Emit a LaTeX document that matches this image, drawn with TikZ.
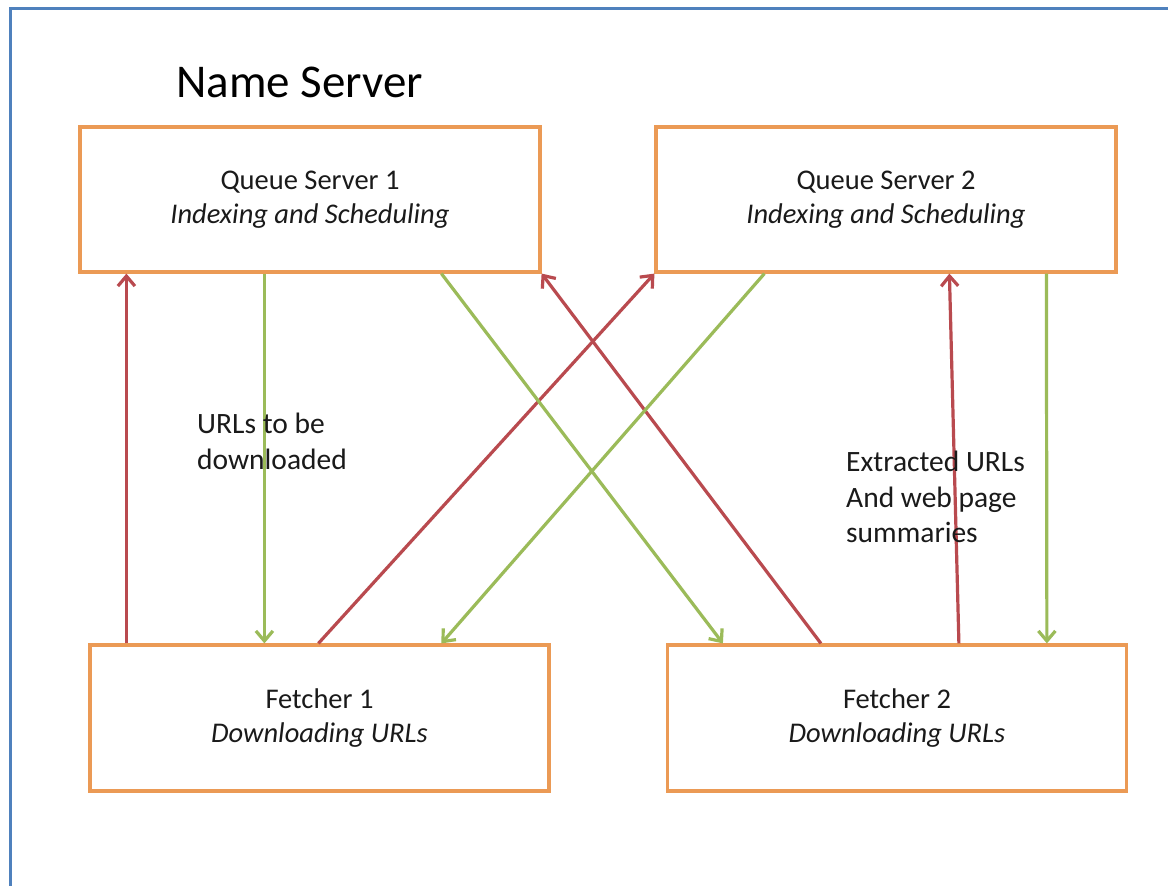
\documentclass[tikz,border=0pt]{standalone}
\usepackage{fontspec}
\setmainfont{Carlito}
\usetikzlibrary{arrows.meta}
\definecolor{frameblue}{HTML}{4F81BD}
\definecolor{boxorange}{HTML}{EB9A55}
\definecolor{arrred}{HTML}{B94A4F}
\definecolor{arrgreen}{HTML}{9BBB59}
\definecolor{txt}{HTML}{1A1A1A}
\tikzset{
  server/.style={draw=boxorange, line width=3.2pt, minimum width=460pt, minimum height=145pt,
    inner sep=0pt, align=center, text=txt, font=\fontsize{28.5}{34}\selectfont},
  upflow/.style={draw=arrred, line width=3.2pt, -{Straight Barb[length=10pt,width=17pt]}},
  downflow/.style={draw=arrgreen, line width=3.2pt, -{Straight Barb[length=10pt,width=17pt]}},
  lbl/.style={align=left, anchor=north west, inner sep=0pt, text=txt, font=\fontsize{29.5}{35.5}\selectfont}
}
\begin{document}
\begin{tikzpicture}[x=1pt,y=-1pt]
\useasboundingbox (0,0) rectangle (1168,886);
\fill[white] (0,0) rectangle (1168,886);
\draw[frameblue, line width=3pt] (10,900) -- (10,8) -- (1180,8);

\node[anchor=base west, inner sep=0pt, font=\fontsize{47}{50}\selectfont, text=black] (title) at (176,97) {Name Server};

\node[server] (qs1) at (310,199.5) {Queue Server 1\\\textit{Indexing and Scheduling}};
\node[server] (qs2) at (886,199.5) {Queue Server 2\\\textit{Indexing and Scheduling}};
\node[server, minimum width=459pt, minimum height=146pt] (f1) at (319.5,718) {Fetcher 1\\\textit{Downloading URLs}};
\node[server, minimum width=459pt, minimum height=146pt] (f2) at (897,718) {Fetcher 2\\\textit{Downloading URLs}};

% red: fetchers -> queue servers
\draw[upflow] ([xshift=38pt]f1.north west) -- ([xshift=48pt]qs1.south west);
\draw[upflow] ([xshift=230pt]f1.north west) -- (qs2.south west);
\draw[upflow] ([xshift=155pt]f2.north west) -- (qs1.south east);
\draw[upflow] ([xshift=293pt]f2.north west) -- ([xshift=295pt]qs2.south west);

% green: queue servers -> fetchers
\draw[downflow] ([xshift=186pt]qs1.south west) -- ([xshift=176pt]f1.north west);
\draw[downflow] ([xshift=363pt]qs1.south west) -- ([xshift=57pt]f2.north west);
\draw[downflow] ([xshift=110pt]qs2.south west) -- ([xshift=353pt]f1.north west);
\draw[downflow] ([xshift=392pt]qs2.south west) -- ([xshift=381pt]f2.north west);

\node[lbl] (l1) at (197,413) {URLs to be\\downloaded};
\node[lbl] (l2) at (846,451) {Extracted URLs\\And web page\\summaries};
\end{tikzpicture}
\end{document}
